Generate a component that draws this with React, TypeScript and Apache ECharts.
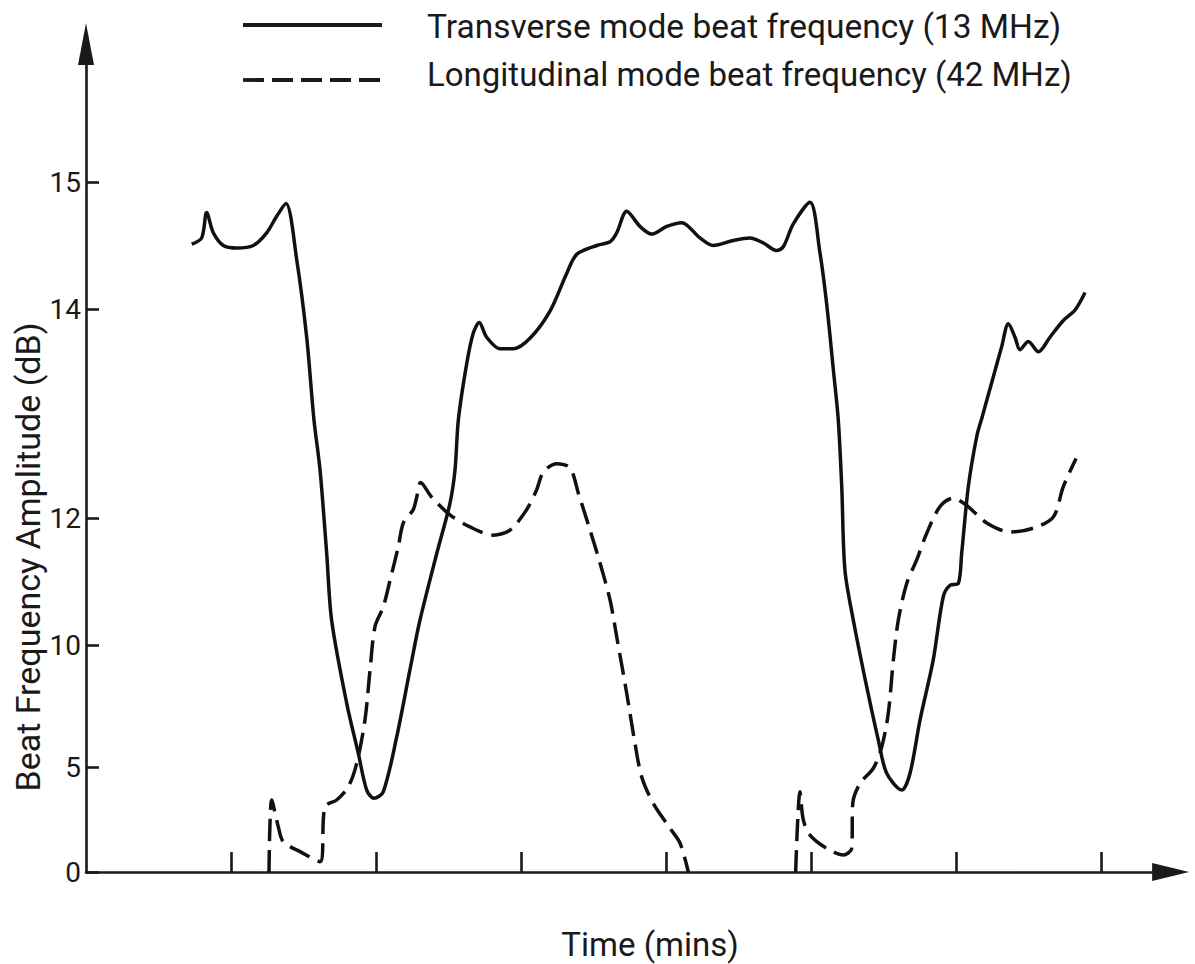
import React, { useEffect, useRef } from "react";
import * as echarts from "echarts";

// y-axis tick values (dB) and their positions on the drawn (non-linear) scale
const TICK_DB = [0, 5, 10, 12, 14, 15];
const TICK_POS = [0, 105, 227, 354, 563, 690];
const Y_MAX_POS = 828;
const X_TICKS = [1, 2, 3, 4, 5, 6, 7];
const X_MAX = 7.48;

// [time (mins), amplitude (dB)]
const TRANSVERSE: [number, number][] = [
  [0.729, 14.51], [0.798, 14.56], [0.832, 14.76], [0.878, 14.6], [0.947, 14.5],
  [1.039, 14.48], [1.154, 14.5], [1.246, 14.6], [1.315, 14.73], [1.379, 14.83],
  [1.453, 14.39], [1.522, 13.73], [1.572, 12.94], [1.614, 12.46], [1.66, 11.44],
  [1.694, 10.39], [1.798, 7.61], [1.878, 5.56], [1.936, 3.9], [1.986, 3.51],
  [2.05, 3.82], [2.143, 6.24], [2.234, 8.98], [2.303, 10.39], [2.419, 11.44],
  [2.51, 12.14], [2.545, 12.46], [2.568, 12.94], [2.626, 13.48], [2.671, 13.77],
  [2.712, 13.87], [2.763, 13.73], [2.855, 13.62], [2.947, 13.62], [3.062, 13.72],
  [3.2, 13.98], [3.315, 14.28], [3.384, 14.43], [3.522, 14.5], [3.614, 14.53],
  [3.66, 14.6], [3.729, 14.77], [3.821, 14.65], [3.901, 14.59], [4.005, 14.65],
  [4.108, 14.68], [4.234, 14.56], [4.326, 14.5], [4.464, 14.54], [4.579, 14.56],
  [4.671, 14.52], [4.763, 14.46], [4.809, 14.49], [4.878, 14.67], [4.993, 14.84],
  [5.062, 14.44], [5.108, 14.04], [5.154, 13.42], [5.188, 12.94], [5.212, 12.3],
  [5.234, 11.18], [5.292, 10.39], [5.384, 8.29], [5.464, 6.11], [5.522, 4.7],
  [5.626, 3.9], [5.683, 4.7], [5.752, 6.93], [5.843, 9.39], [5.912, 10.76],
  [5.959, 10.94], [6.016, 10.97], [6.039, 11.44], [6.085, 12.3], [6.143, 12.78],
  [6.179, 12.96], [6.257, 13.35], [6.315, 13.64], [6.361, 13.86], [6.407, 13.73],
  [6.441, 13.61], [6.499, 13.69], [6.568, 13.59], [6.648, 13.73], [6.74, 13.89],
  [6.821, 13.99], [6.89, 14.13],
];

const LONGITUDINAL_A: [number, number][] = [
  [1.262, 0], [1.281, 3.43], [1.326, 2.16], [1.361, 1.44], [1.476, 0.97],
  [1.614, 0.49], [1.648, 3.11], [1.729, 3.43], [1.809, 4.06], [1.867, 5.15],
  [1.924, 6.93], [1.959, 8.98], [1.993, 10.29], [2.05, 10.6], [2.097, 11.02],
  [2.154, 11.55], [2.188, 11.92], [2.257, 12.08], [2.281, 12.2], [2.308, 12.34],
  [2.384, 12.2], [2.51, 12.03], [2.648, 11.86], [2.809, 11.73], [2.924, 11.81],
  [3.039, 12.08], [3.108, 12.27], [3.154, 12.44], [3.246, 12.52], [3.338, 12.48],
  [3.395, 12.24], [3.476, 11.81], [3.545, 11.29], [3.614, 10.71], [3.66, 10.13],
  [3.729, 8.02], [3.786, 5.97], [3.832, 4.54], [3.912, 3.27], [4.028, 2.08],
  [4.097, 1.37], [4.154, 0],
];

const LONGITUDINAL_B: [number, number][] = [
  [4.894, 0], [4.924, 3.82], [4.947, 2.48], [4.993, 1.76], [5.108, 1.13],
  [5.223, 0.81], [5.281, 1.13], [5.288, 3.27], [5.338, 4.22], [5.43, 4.94],
  [5.488, 5.83], [5.533, 7.2], [5.568, 9.39], [5.602, 10.39], [5.66, 10.97],
  [5.729, 11.34], [5.798, 11.76], [5.89, 12.11], [5.981, 12.19], [6.074, 12.12],
  [6.212, 11.92], [6.372, 11.78], [6.533, 11.84], [6.671, 12.01], [6.74, 12.3],
  [6.828, 12.57],
];

const NAME_T = "Transverse mode beat frequency (13 MHz)";
const NAME_L = "Longitudinal mode beat frequency (42 MHz)";

function dbToPos(v: number): number {
  for (let i = 1; i < TICK_DB.length; i++) {
    if (v <= TICK_DB[i] || i === TICK_DB.length - 1) {
      const d0 = TICK_DB[i - 1], d1 = TICK_DB[i];
      const p0 = TICK_POS[i - 1], p1 = TICK_POS[i];
      return p0 + ((v - d0) * (p1 - p0)) / (d1 - d0);
    }
  }
  return 0;
}

const toSeries = (arr: [number, number][]) => arr.map(([t, db]) => [t, dbToPos(db)]);

const INK = "#1a1a1a";
const FONT = "Roboto";

export default function App() {
  const ref = useRef<HTMLDivElement>(null);
  useEffect(() => {
    if (!ref.current) return;
    const chart = echarts.init(ref.current, null, { renderer: "svg" });
    const lineCommon = {
      type: "line",
      symbol: "none",
      showSymbol: false,
      smooth: 0.3,
      z: 3,
    };
    chart.setOption({
      animation: false,
      backgroundColor: "#ffffff",
      grid: { left: 86, top: 44, width: X_MAX * 145, height: Y_MAX_POS },
      xAxis: {
        type: "value",
        min: 0,
        max: X_MAX,
        splitLine: { show: false },
        axisLine: {
          show: true,
          lineStyle: { color: INK, width: 2.6 },
          symbol: ["none", "triangle"],
          symbolSize: [18, 37],
        },
        axisTick: {
          show: true,
          inside: true,
          length: 20,
          customValues: X_TICKS,
          lineStyle: { color: INK, width: 2.6 },
        },
        axisLabel: { show: false },
      },
      yAxis: {
        type: "value",
        min: 0,
        max: Y_MAX_POS,
        splitLine: { show: false },
        axisLine: {
          show: true,
          lineStyle: { color: INK, width: 2.6 },
          symbol: ["none", "triangle"],
          symbolSize: [16, 42],
        },
        axisTick: {
          show: true,
          inside: true,
          length: 13,
          customValues: TICK_POS,
          lineStyle: { color: INK, width: 2.6 },
        },
        axisLabel: {
          show: true,
          customValues: TICK_POS,
          margin: 5,
          fontSize: 28,
          fontFamily: FONT,
          color: INK,
          formatter: (v: number) => {
            const i = TICK_POS.indexOf(Math.round(v));
            return i >= 0 ? String(TICK_DB[i]) : "";
          },
        },
      },
      series: [
        {
          ...lineCommon,
          name: NAME_T,
          data: toSeries(TRANSVERSE),
          lineStyle: { color: "#111", width: 3.5, type: "solid" },
        },
        {
          ...lineCommon,
          name: NAME_L,
          data: toSeries(LONGITUDINAL_A),
          lineStyle: { color: "#111", width: 3.5, type: [22, 9] },
        },
        {
          ...lineCommon,
          name: NAME_L,
          data: toSeries(LONGITUDINAL_B),
          lineStyle: { color: "#111", width: 3.5, type: [22, 9] },
        },
      ],
      graphic: [
        {
          type: "line",
          shape: { x1: 243, y1: 25, x2: 382, y2: 25 },
          style: { stroke: INK, lineWidth: 3.8 },
        },
        {
          type: "line",
          shape: { x1: 243, y1: 80, x2: 382, y2: 80 },
          style: { stroke: INK, lineWidth: 3.8, lineDash: [21, 8] },
        },
        {
          type: "text",
          x: 427,
          y: 26,
          style: {
            text: NAME_T,
            fontSize: 33.5,
            fontFamily: FONT,
            fill: INK,
            align: "left",
            verticalAlign: "middle",
          },
        },
        {
          type: "text",
          x: 427,
          y: 74,
          style: {
            text: NAME_L,
            fontSize: 33,
            fontFamily: FONT,
            fill: INK,
            align: "left",
            verticalAlign: "middle",
          },
        },
        {
          type: "text",
          x: 28,
          y: 557,
          rotation: Math.PI / 2,
          style: {
            text: "Beat Frequency Amplitude (dB)",
            fontSize: 34,
            fontFamily: FONT,
            fill: INK,
            align: "center",
            verticalAlign: "middle",
          },
        },
        {
          type: "text",
          x: 650,
          y: 944,
          style: {
            text: "Time (mins)",
            fontSize: 33,
            fontFamily: FONT,
            fill: INK,
            align: "center",
            verticalAlign: "middle",
          },
        },
      ],
    });
    return () => chart.dispose();
  }, []);
  return (
    <div
      ref={ref}
      style={{ position: "fixed", left: 0, top: 0, width: 1195, height: 964, background: "#fff" }}
    />
  );
}
